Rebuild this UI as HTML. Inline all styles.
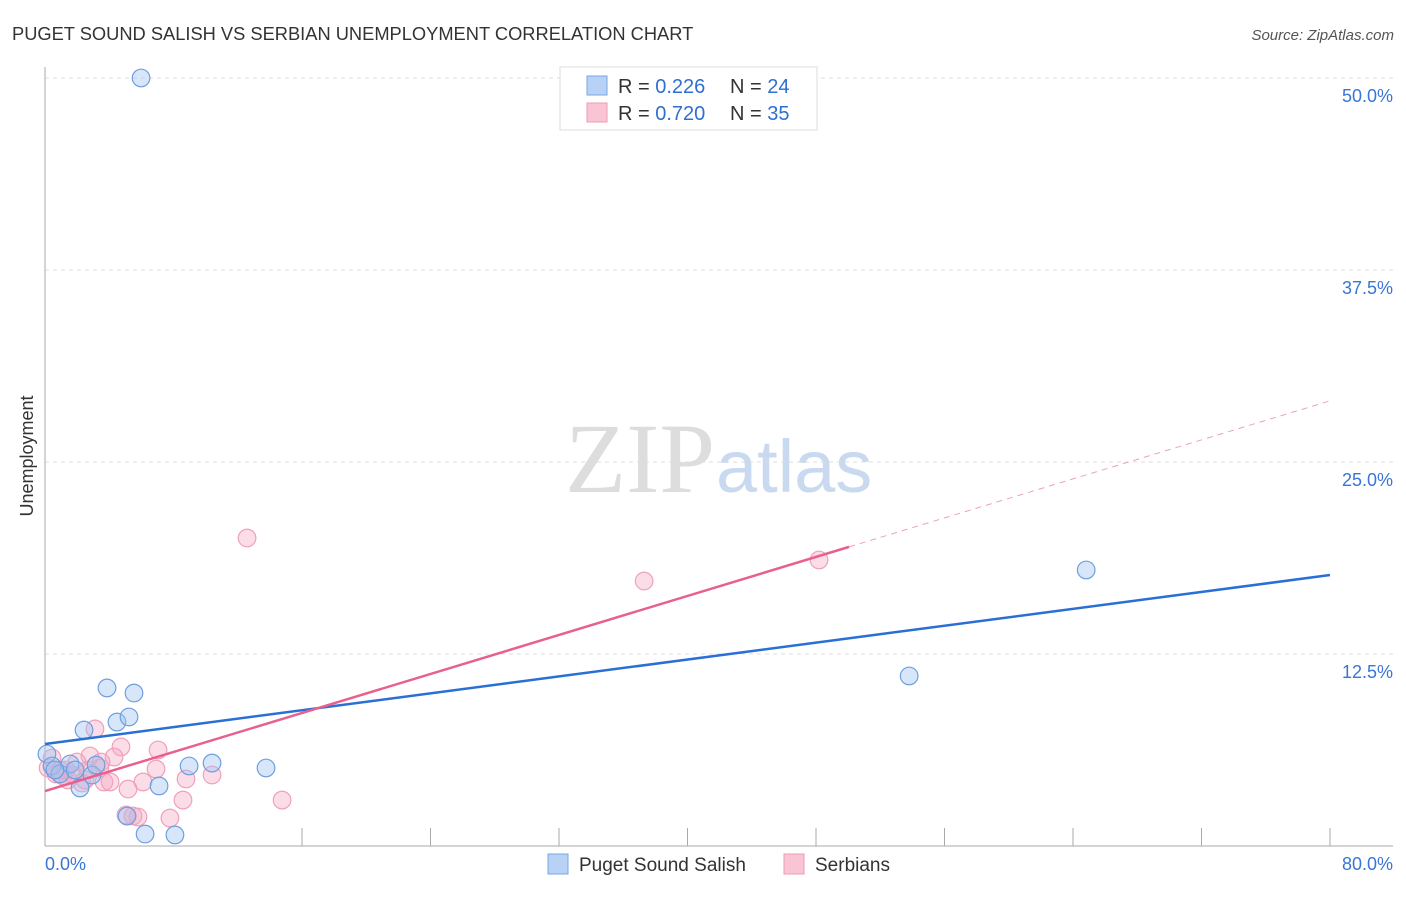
<!DOCTYPE html>
<html><head><meta charset="utf-8"><style>
body{margin:0;background:#fff;font-family:"Liberation Sans",sans-serif}
</style></head><body>
<svg id="c" width="1406" height="892" xmlns="http://www.w3.org/2000/svg" font-family="Liberation Sans, sans-serif">
<text x="12" y="40" font-size="18.3" fill="#333">PUGET SOUND SALISH VS SERBIAN UNEMPLOYMENT CORRELATION CHART</text>
<text x="1394" y="40" font-size="15" fill="#555" font-style="italic" text-anchor="end">Source: ZipAtlas.com</text>
<text x="715" y="492" font-size="100" fill="#ddd" font-family="Liberation Serif, serif" text-anchor="end">ZIP</text>
<text x="716" y="492" font-size="74" fill="#c9d9f0">atlas</text>
<text transform="translate(33,456) rotate(-90)" font-size="18" fill="#333" text-anchor="middle">Unemployment</text>
<g id="grid"></g><g id="axes"></g><g id="pts"></g><g id="lines"></g>
<g>
<rect x="560" y="67" width="257" height="63" fill="#fff" stroke="#ddd"/>
<rect x="587" y="76" width="20" height="19" fill="#b8d2f5" stroke="#7aa6e6"/>
<rect x="587" y="103" width="20" height="19" fill="#f9c5d5" stroke="#ee9ab5"/>
<text x="618" y="93" font-size="20" fill="#333">R = <tspan fill="#2f6fd0">0.226</tspan></text>
<text x="730" y="93" font-size="20" fill="#333">N = <tspan fill="#2f6fd0">24</tspan></text>
<text x="618" y="120" font-size="20" fill="#333">R = <tspan fill="#2f6fd0">0.720</tspan></text>
<text x="730" y="120" font-size="20" fill="#333">N = <tspan fill="#2f6fd0">35</tspan></text>
</g>
<g>
<rect x="548" y="854" width="20" height="20" fill="#b8d2f5" stroke="#7aa6e6"/>
<text x="579" y="871" font-size="19" fill="#333">Puget Sound Salish</text>
<rect x="784" y="854" width="20" height="20" fill="#f9c5d5" stroke="#ee9ab5"/>
<text x="815" y="871" font-size="19" fill="#333">Serbians</text>
</g>
</svg>
<script>
const yTicks=[12.5,25,37.5,50];
const yTickLabels=["12.5%","25.0%","37.5%","50.0%"];
const blueX=[5.98,3.86,5.54,4.48,5.23,2.43,0.12,0.44,0.93,1.56,1.87,2.93,3.18,2.18,7.10,8.97,10.40,13.76,5.11,6.23,8.09,53.80,64.82,0.62];
const blueY=[50.0,10.29,9.96,8.07,8.40,7.55,5.99,5.21,4.69,5.34,4.95,4.62,5.27,3.78,3.91,5.21,5.40,5.08,1.95,0.78,0.72,11.07,17.97,4.95];
const pinkX=[12.58,37.30,48.19,3.11,4.73,7.04,4.30,2.80,1.99,0.44,0.19,0.68,1.12,1.31,1.74,2.49,3.42,3.67,4.05,6.10,5.17,6.91,8.78,10.40,8.59,14.76,5.04,5.48,5.79,7.78,3.49,0.93,1.43,2.68,2.30];
const pinkY=[20.05,17.25,18.62,7.62,6.45,6.25,5.79,5.86,5.47,5.73,5.08,4.69,4.56,4.95,4.62,4.30,5.08,4.17,4.17,4.17,3.71,5.01,4.36,4.62,2.99,2.99,2.02,1.95,1.89,1.82,5.47,4.95,4.30,4.95,4.10];
const blueFit=[6.64,0.1375];
const pinkFit=[3.58,0.3175];
const pinkSolidEnd=50.06;
const NS="http://www.w3.org/2000/svg";
const sx=v=>45+v*1285/80, sy=v=>846-v*15.36;
function mk(t,a,p){const e=document.createElementNS(NS,t);for(const k in a)e.setAttribute(k,a[k]);p.appendChild(e);return e;}
const grid=document.getElementById('grid'),axes=document.getElementById('axes'),pts=document.getElementById('pts'),lines=document.getElementById('lines');
yTicks.forEach((t,i)=>{
 const l=mk('line',{x1:45,x2:1393,y1:sy(t),y2:sy(t),stroke:'#ddd','stroke-dasharray':'4,4'},grid);
 
 
 const tx=mk('text',{x:1393,y:sy(t)+24,'font-size':18,fill:'#3a75d6','text-anchor':'end'},grid);
 tx.textContent=yTickLabels[i];
 
 
});
const ya=mk('line',{x1:45,x2:45,y1:67,y2:846,stroke:'#aaa'},axes);


const xa=mk('line',{x1:45,x2:1393,y1:846,y2:846,stroke:'#aaa'},axes);


for(let v=16;v<=80;v+=8){const t=mk('line',{x1:sx(v),x2:sx(v),y1:828,y2:846,stroke:'#aaa'},axes);
 
 }
const x0=mk('text',{x:45,y:870,'font-size':18,fill:'#3a75d6'},axes);x0.textContent='0.0%';


const x1=mk('text',{x:1393,y:870,'font-size':18,fill:'#3a75d6','text-anchor':'end'},axes);x1.textContent='80.0%';


pinkX.forEach((x,i)=>{const c=mk('circle',{cx:sx(x),cy:sy(pinkY[i]),r:8.8,fill:'rgba(245,165,192,0.38)',stroke:'#f0a0bb','stroke-width':1.2},pts);
 
 });
blueX.forEach((x,i)=>{const c=mk('circle',{cx:sx(x),cy:sy(blueY[i]),r:8.8,fill:'rgba(160,195,240,0.42)',stroke:'#6f9fe0','stroke-width':1.2},pts);
 
 });
const f=(p,x)=>p[0]+p[1]*x;
const bl=mk('line',{x1:sx(0),y1:sy(f(blueFit,0)),x2:sx(80),y2:sy(f(blueFit,80)),stroke:'#2a6fd6','stroke-width':2.5},lines);


const pl=mk('line',{x1:sx(0),y1:sy(f(pinkFit,0)),x2:sx(pinkSolidEnd),y2:sy(f(pinkFit,pinkSolidEnd)),stroke:'#e8608f','stroke-width':2.5},lines);


const pd=mk('line',{x1:sx(pinkSolidEnd),y1:sy(f(pinkFit,pinkSolidEnd)),x2:sx(80),y2:sy(f(pinkFit,80)),stroke:'#eea0bb','stroke-width':1,'stroke-dasharray':'6,5'},lines);


</script>
</body></html>
